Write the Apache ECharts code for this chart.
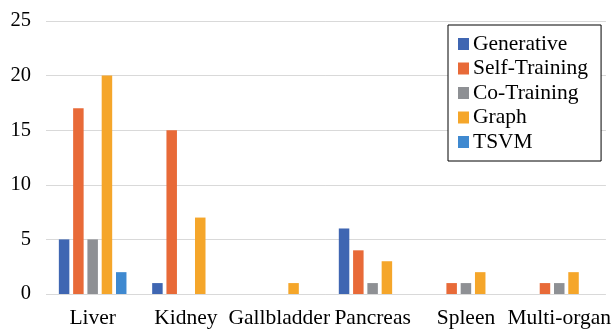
<!DOCTYPE html>
<html>
<head>
<meta charset="utf-8">
<script src="https://cdn.jsdelivr.net/npm/echarts@6/dist/echarts.min.js"></script>
<style>
html, body { margin: 0; padding: 0; background: #fff; }
#main { width: 614px; height: 329px; }
</style>
</head>
<body>
<div id="main"></div>
<script>
// categories and counts per method
const organs = ['Liver', 'Kidney', 'Gallbladder', 'Pancreas', 'Spleen', 'Multi-organ'];
const generative = [5, 1, 0, 6, 0, 0];
const selfTraining = [17, 15, 0, 4, 1, 1];
const coTraining = [5, 0, 0, 1, 1, 1];
const graph = [20, 7, 1, 3, 2, 2];
const tsvm = [2, 0, 0, 0, 0, 0];
const yTicks = [0, 5, 10, 15, 20, 25];

const font = "'Liberation Serif', 'Times New Roman', serif";
let chartDom = document.getElementById('main');
let myChart = echarts.init(chartDom);

const mk = (name, data, color) => ({
  name: name,
  type: 'bar',
  data: data,
  barWidth: 10.5,
  barGap: '36%',
  itemStyle: { color: color },
  animation: false
});

let option = {
  animation: false,
  grid: { left: 46, right: 8, top: 21, bottom: 34, containLabel: false },
  legend: {
    orient: 'vertical',
    left: 448,
    top: 25,
    padding: [8, 13, 8, 10],
    borderColor: '#000',
    borderWidth: 1,
    backgroundColor: '#fff',
    icon: 'rect',
    itemWidth: 11,
    itemHeight: 12,
    itemGap: 2.5,
    textStyle: { fontFamily: font, fontSize: 21.5, color: '#000', padding: [0, 0, 0, -1] },
    data: ['Generative', 'Self-Training', 'Co-Training', 'Graph', 'TSVM']
  },
  xAxis: {
    type: 'category',
    data: organs,
    axisLine: { show: false },
    axisTick: { show: false },
    axisLabel: { fontFamily: font, fontSize: 21.5, color: '#000', margin: 13, interval: 0 }
  },
  yAxis: {
    type: 'value',
    min: yTicks[0],
    max: yTicks[yTicks.length - 1],
    interval: 5,
    axisLine: { show: false },
    axisTick: { show: false },
    splitLine: { lineStyle: { color: '#d9d9d9', width: 1 } },
    axisLabel: { fontFamily: font, fontSize: 20.5, color: '#000', margin: 15 }
  },
  series: [
    mk('Generative', generative, '#3f66b2'),
    mk('Self-Training', selfTraining, '#e86a38'),
    mk('Co-Training', coTraining, '#8e9094'),
    mk('Graph', graph, '#f5a62a'),
    mk('TSVM', tsvm, '#3f89d0')
  ]
};
option && myChart.setOption(option);
</script>
</body>
</html>
